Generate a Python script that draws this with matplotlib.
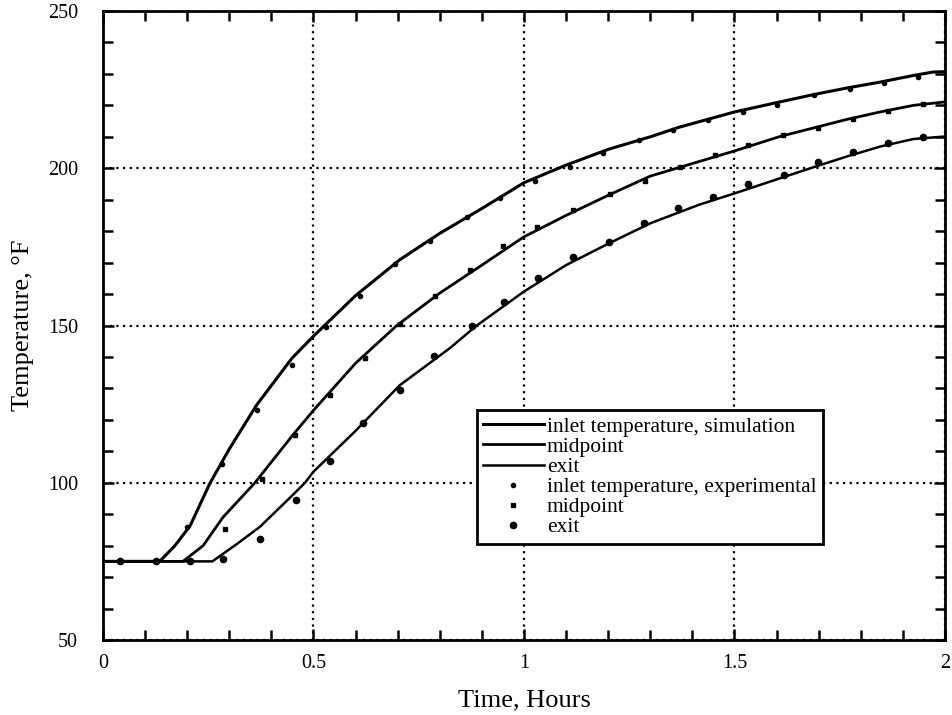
import numpy as np
import matplotlib
matplotlib.use("Agg")
import matplotlib.pyplot as plt
from matplotlib.ticker import MultipleLocator

plt.rcParams["font.family"] = ["Liberation Serif", "DejaVu Serif"]

# simulation curves (hours, deg F)
inlet_sim_t = [0, 0.135, 0.171, 0.207, 0.254, 0.3, 0.365, 0.449, 0.5, 0.6, 0.705, 0.8, 0.9,
               1.0, 1.1, 1.2, 1.3, 1.37, 1.5, 1.608, 1.687, 1.766, 1.846, 1.925, 1.972, 2.0]
inlet_sim_T = [75, 75, 80, 86.3, 99.8, 110.7, 124.7, 139.6, 146.6, 159.5, 170.9, 179.3, 187.2,
               195.4, 201, 206, 210, 213.1, 217.9, 221.1, 223.4, 225.5, 227.4, 229.5, 230.6, 230.7]

mid_sim_t = [0, 0.19, 0.238, 0.285, 0.361, 0.45, 0.5, 0.6, 0.698, 0.8, 0.9, 1.0, 1.1,
             1.2, 1.3, 1.37, 1.5, 1.608, 1.687, 1.766, 1.846, 1.925, 2.0]
mid_sim_T = [75, 75, 80, 89, 100, 115, 123, 138, 150, 160.3, 169.2, 178.2, 185,
             191.4, 197.5, 200.3, 205.5, 210.1, 212.8, 215.5, 217.9, 220, 221.1]

exit_sim_t = [0, 0.26, 0.321, 0.373, 0.45, 0.48, 0.5, 0.6, 0.705, 0.824, 0.888, 1.0, 1.1,
              1.2, 1.3, 1.418, 1.5, 1.608, 1.687, 1.766, 1.846, 1.925, 2.0]
exit_sim_T = [75, 75, 80.8, 86, 96, 100, 103.5, 116.5, 131, 142.8, 150, 160.8, 169.2,
              176, 182.5, 188.5, 192, 196.8, 200.3, 203.7, 206.9, 209.3, 210.1]

# experimental points
inlet_exp_t = [0.04, 0.125, 0.2, 0.282, 0.365, 0.449, 0.53, 0.61, 0.693, 0.777, 0.864, 0.943,
               1.026, 1.109, 1.188, 1.273, 1.355, 1.437, 1.52, 1.6, 1.69, 1.774, 1.855, 1.936]
inlet_exp_T = [75, 75, 86, 106, 123, 137.6, 149.5, 159.5, 169.4, 176.8, 184.6, 190.4,
               196, 200.3, 205, 208.9, 212.3, 215.3, 217.9, 220.1, 223.3, 225.2, 227.1, 229]

mid_exp_t = [0.04, 0.125, 0.207, 0.29, 0.377, 0.456, 0.539, 0.622, 0.706, 0.789, 0.872, 0.95,
             1.03, 1.116, 1.204, 1.287, 1.37, 1.454, 1.532, 1.615, 1.698, 1.781, 1.865, 1.948]
mid_exp_T = [75, 75, 75, 85.3, 101.2, 115.1, 128, 139.7, 150.4, 159.5, 167.5, 175.3,
             181.4, 186.7, 191.9, 196, 200.3, 204.1, 207.4, 210.6, 212.8, 215.7, 218.2, 220.4]

exit_exp_t = [0.04, 0.125, 0.207, 0.285, 0.373, 0.458, 0.539, 0.618, 0.705, 0.787, 0.876, 0.952,
              1.033, 1.116, 1.202, 1.285, 1.366, 1.449, 1.532, 1.617, 1.698, 1.781, 1.865, 1.948]
exit_exp_T = [75, 75, 75, 75.8, 82, 94.4, 107, 119, 129.5, 140.3, 149.7, 157.5,
              165, 171.7, 176.7, 182.7, 187.4, 190.9, 195, 197.9, 202, 205.1, 208.1, 209.9]

fig = plt.figure(figsize=(9.53, 7.15), dpi=100)
ax = fig.add_axes([0.108, 0.1049, 0.8836, 0.8797])

ax.plot(inlet_sim_t, inlet_sim_T, color="black", lw=2.2, label="inlet temperature, simulation")
ax.plot(mid_sim_t, mid_sim_T, color="black", lw=2.0, label="midpoint")
ax.plot(exit_sim_t, exit_sim_T, color="black", lw=1.8, label="exit")
ax.plot(inlet_exp_t, inlet_exp_T, "o", color="black", ms=3, ls="none",
        label="inlet temperature, experimental")
ax.plot(mid_exp_t, mid_exp_T, "s", color="black", ms=3.5, ls="none", label="midpoint")
ax.plot(exit_exp_t, exit_exp_T, "o", color="black", ms=4.5, ls="none", label="exit")

ax.set_xlim(0, 2)
ax.set_ylim(50, 250)
ax.xaxis.set_major_locator(MultipleLocator(0.5))
ax.xaxis.set_minor_locator(MultipleLocator(0.1))
ax.yaxis.set_major_locator(MultipleLocator(50))
ax.yaxis.set_minor_locator(MultipleLocator(10))
ax.xaxis.set_major_formatter(plt.FuncFormatter(lambda v, p: "%g" % v))

ax.tick_params(which="both", direction="in", top=True, right=True, width=1.8,
               labelsize=14.5, color="black")
ax.tick_params(which="major", length=8)
ax.tick_params(which="minor", length=7)
ax.tick_params(axis="x", which="major", pad=10)
ax.tick_params(axis="y", which="major", pad=18)
for s in ax.spines.values():
    s.set_linewidth(2)

ax.grid(True, which="major", color="black", ls=(0, (1, 2)), lw=1.6)

ax.set_xlabel("Time, Hours", fontsize=19, labelpad=12)
ax.set_ylabel("Temperature, °F", fontsize=19, labelpad=10)

leg = ax.legend(loc="lower left", bbox_to_anchor=(0.444, 0.153), fontsize=15.5,
                frameon=True, fancybox=False, framealpha=1, edgecolor="black",
                labelspacing=0, handlelength=2.8, handletextpad=0.15,
                borderpad=0.3, borderaxespad=0)
leg.get_frame().set_linewidth(2)

fig.savefig("out.png", dpi=100)
